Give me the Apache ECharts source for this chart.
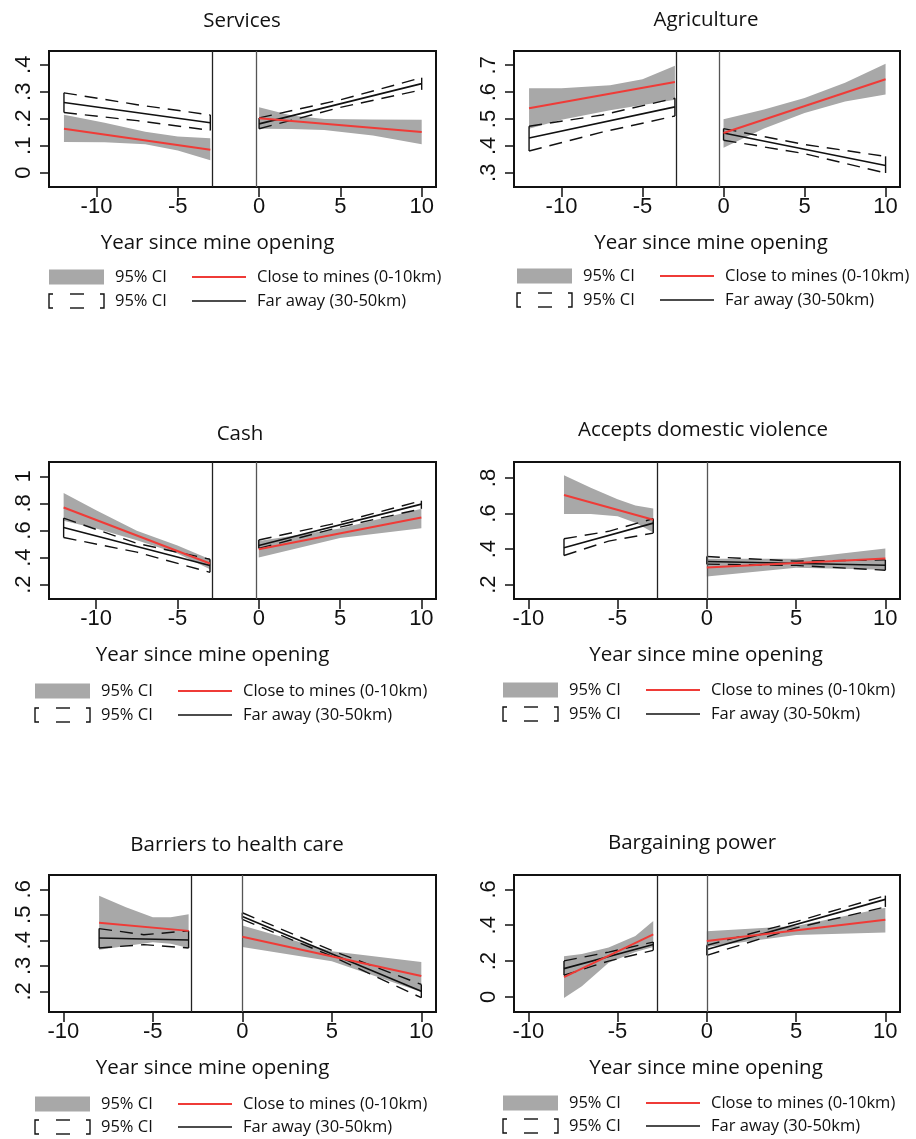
<!DOCTYPE html>
<html>
<head>
<meta charset="utf-8">
<script src="https://cdn.jsdelivr.net/npm/echarts@6/dist/echarts.min.js"></script>
<style>
  html, body { margin: 0; padding: 0; background: #fff; }
  #chart { width: 916px; height: 1139px; }
</style>
</head>
<body>
<div id="chart"></div>
<script>
// Shared x ticks (years relative to mine opening)
const xTicks = [-10, -5, 0, 5, 10];

// Each line: [before-opening segment, after-opening segment], points [year, value]
// Each band: same two segments, points [year, lower, upper]

// Services
const servicesYTicks = [0, 0.1, 0.2, 0.3, 0.4];
const servicesCloseLine = [[[-12, 0.163], [-3, 0.085]], [[0, 0.202], [10, 0.151]]];
const servicesCloseBand = [
  [[-12, 0.114, 0.215], [-9.5, 0.113, 0.185], [-7, 0.105, 0.152], [-5, 0.082, 0.134], [-3, 0.046, 0.128]],
  [[0, 0.163, 0.243], [2, 0.162, 0.212], [4, 0.158, 0.199], [7, 0.138, 0.197], [10, 0.105, 0.196]]
];
const servicesFarLine = [[[-12, 0.260], [-3, 0.185]], [[0, 0.181], [10, 0.330]]];
const servicesFarBand = [
  [[-12, 0.223, 0.296], [-7.5, 0.193, 0.252], [-3, 0.157, 0.214]],
  [[0, 0.163, 0.203], [5, 0.242, 0.270], [10, 0.307, 0.352]]
];

// Agriculture
const agricultureYTicks = [0.3, 0.4, 0.5, 0.6, 0.7];
const agricultureCloseLine = [[[-12, 0.540], [-3, 0.638]], [[0, 0.448], [10, 0.648]]];
const agricultureCloseBand = [
  [[-12, 0.464, 0.614], [-10, 0.497, 0.614], [-7, 0.533, 0.626], [-5, 0.552, 0.648], [-3, 0.572, 0.698]],
  [[0, 0.393, 0.499], [2.5, 0.465, 0.535], [5, 0.522, 0.578], [7.5, 0.565, 0.635], [10, 0.591, 0.706]]
];
const agricultureFarLine = [[[-12, 0.429], [-3, 0.545]], [[0, 0.448], [10, 0.327]]];
const agricultureFarBand = [
  [[-12, 0.381, 0.473], [-7.5, 0.451, 0.515], [-3, 0.511, 0.577]],
  [[0, 0.421, 0.464], [5, 0.371, 0.405], [10, 0.299, 0.361]]
];

// Cash
const cashYTicks = [0.2, 0.4, 0.6, 0.8, 1];
const cashCloseLine = [[[-12, 0.770], [-3, 0.356]], [[0, 0.462], [10, 0.696]]];
const cashCloseBand = [
  [[-12, 0.672, 0.877], [-10, 0.615, 0.750], [-7.5, 0.528, 0.598], [-5, 0.430, 0.490], [-3, 0.314, 0.388]],
  [[0, 0.400, 0.523], [5, 0.545, 0.615], [10, 0.617, 0.760]]
];
const cashFarLine = [[[-12, 0.622], [-3, 0.341]], [[0, 0.489], [10, 0.795]]];
const cashFarBand = [
  [[-12, 0.548, 0.691], [-7.5, 0.440, 0.505], [-3, 0.291, 0.388]],
  [[0, 0.468, 0.530], [5, 0.625, 0.660], [10, 0.760, 0.820]]
];

// Accepts domestic violence
const violenceYTicks = [0.2, 0.4, 0.6, 0.8];
const violenceCloseLine = [[[-8, 0.704], [-3, 0.565]], [[0, 0.296], [10, 0.347]]];
const violenceCloseBand = [
  [[-8, 0.597, 0.815], [-6.5, 0.597, 0.745], [-5, 0.585, 0.680], [-4, 0.548, 0.645], [-3, 0.493, 0.629]],
  [[0, 0.245, 0.345], [5, 0.295, 0.345], [10, 0.283, 0.403]]
];
const violenceFarLine = [[[-8, 0.407], [-3, 0.546]], [[0, 0.330], [10, 0.309]]];
const violenceFarBand = [
  [[-8, 0.364, 0.458], [-5.5, 0.445, 0.500], [-3, 0.490, 0.571]],
  [[0, 0.315, 0.358], [5, 0.308, 0.332], [10, 0.281, 0.339]]
];

// Barriers to health care
const healthYTicks = [0.2, 0.3, 0.4, 0.5, 0.6];
const healthCloseLine = [[[-8, 0.469], [-3, 0.437]], [[0, 0.414], [10, 0.260]]];
const healthCloseBand = [
  [[-8, 0.363, 0.575], [-6.5, 0.378, 0.530], [-5, 0.392, 0.490], [-4, 0.387, 0.490], [-3, 0.370, 0.502]],
  [[0, 0.374, 0.458], [5, 0.318, 0.357], [10, 0.197, 0.315]]
];
const healthFarLine = [[[-8, 0.409], [-3, 0.401]], [[0, 0.493], [10, 0.200]]];
const healthFarBand = [
  [[-8, 0.370, 0.446], [-5.5, 0.383, 0.422], [-3, 0.370, 0.437]],
  [[0, 0.482, 0.508], [5, 0.338, 0.360], [10, 0.175, 0.227]]
];

// Bargaining power
const bargainYTicks = [0, 0.2, 0.4, 0.6];
const bargainCloseLine = [[[-8, 0.111], [-3, 0.349]], [[0, 0.312], [10, 0.431]]];
const bargainCloseBand = [
  [[-8, -0.006, 0.227], [-7, 0.060, 0.240], [-5.5, 0.190, 0.275], [-4, 0.250, 0.340], [-3, 0.279, 0.424]],
  [[0, 0.279, 0.366], [5, 0.345, 0.395], [10, 0.360, 0.498]]
];
const bargainFarLine = [[[-8, 0.158], [-3, 0.292]], [[0, 0.264], [10, 0.544]]];
const bargainFarBand = [
  [[-8, 0.121, 0.201], [-5.5, 0.200, 0.250], [-3, 0.260, 0.306]],
  [[0, 0.232, 0.288], [5, 0.385, 0.420], [10, 0.502, 0.565]]
];

// Panel layout
const panels = [
  { title: 'Services', yTicks: servicesYTicks,
    close: servicesCloseLine, closeBand: servicesCloseBand, far: servicesFarLine, farBand: servicesFarBand,
    grid: { left: 49, top: 51, width: 387, height: 136 }, xRange: [-12.92, 10.88], yRange: [-0.053, 0.451],
    gap: [-2.87, -0.18], titleAt: [237, 16], nameDx: -25, legend: [49, 277, 301] },
  { title: 'Agriculture', yTicks: agricultureYTicks,
    close: agricultureCloseLine, closeBand: agricultureCloseBand, far: agricultureFarLine, farBand: agricultureFarBand,
    grid: { left: 514, top: 51, width: 386, height: 136 }, xRange: [-12.93, 10.89], yRange: [0.247, 0.753],
    gap: [-2.9, -0.25], titleAt: [701, 15], nameDx: 4, legend: [517, 276, 300] },
  { title: 'Cash', yTicks: cashYTicks,
    close: cashCloseLine, closeBand: cashCloseBand, far: cashFarLine, farBand: cashFarBand,
    grid: { left: 49, top: 462, width: 387, height: 137 }, xRange: [-12.9, 10.9], yRange: [0.094, 1.106],
    gap: [-2.84, -0.14], titleAt: [235, 429], nameDx: -30, legend: [35, 691, 715] },
  { title: 'Accepts domestic violence', yTicks: violenceYTicks,
    close: violenceCloseLine, closeBand: violenceCloseBand, far: violenceFarLine, farBand: violenceFarBand,
    grid: { left: 514, top: 462, width: 386, height: 137 }, xRange: [-10.8, 10.82], yRange: [0.119, 0.890],
    gap: [-2.8, 0], titleAt: [698, 425], nameDx: -1, legend: [503, 690, 714] },
  { title: 'Barriers to health care', yTicks: healthYTicks,
    close: healthCloseLine, closeBand: healthCloseBand, far: healthFarLine, farBand: healthFarBand,
    grid: { left: 49, top: 875, width: 387, height: 137 }, xRange: [-10.8, 10.82], yRange: [0.119, 0.656],
    gap: [-2.84, 0], titleAt: [232, 840], nameDx: -30, legend: [35, 1104, 1127] },
  { title: 'Bargaining power', yTicks: bargainYTicks,
    close: bargainCloseLine, closeBand: bargainCloseBand, far: bargainFarLine, farBand: bargainFarBand,
    grid: { left: 514, top: 875, width: 386, height: 137 }, xRange: [-10.8, 10.82], yRange: [-0.084, 0.680],
    gap: [-2.8, 0], titleAt: [687, 838], nameDx: -1, legend: [503, 1103, 1126] }
];

const RED = '#ef3b37';
const BAND = '#a8a8a8';
const INK = '#111';
const TEXT_FONT = 'Open Sans';
const TICK_FONT = 'Liberation Sans';

function stataNumber(v) {
  const s = String(+(+v).toFixed(2));
  return s.replace(/^0\./, '.').replace(/^-0\./, '-.');
}

// filled confidence band as one polygon per segment
function bandSeries(seg, i) {
  return {
    type: 'custom', xAxisIndex: i, yAxisIndex: i, data: seg, z: 1,
    encode: { x: 0, y: [1, 2] }, silent: true,
    renderItem(params, api) {
      if (params.dataIndex !== 0) return;
      const up = seg.map(p => api.coord([p[0], p[2]]));
      const lo = seg.map(p => api.coord([p[0], p[1]])).reverse();
      return { type: 'polygon', shape: { points: up.concat(lo) }, style: { fill: BAND } };
    }
  };
}

// dashed outline band with solid end caps
function outlineSeries(seg, i) {
  return {
    type: 'custom', xAxisIndex: i, yAxisIndex: i, data: seg, z: 3,
    encode: { x: 0, y: [1, 2] }, silent: true,
    renderItem(params, api) {
      if (params.dataIndex !== 0) return;
      const up = seg.map(p => api.coord([p[0], p[2]]));
      const lo = seg.map(p => api.coord([p[0], p[1]]));
      const dash = { stroke: INK, lineWidth: 1.4, lineDash: [13, 8], fill: null };
      const solid = { stroke: INK, lineWidth: 1.4, fill: null };
      const n = seg.length - 1;
      return {
        type: 'group',
        children: [
          { type: 'polyline', shape: { points: up }, style: dash },
          { type: 'polyline', shape: { points: lo }, style: dash },
          { type: 'line', shape: { x1: lo[0][0], y1: lo[0][1], x2: up[0][0], y2: up[0][1] }, style: solid },
          { type: 'line', shape: { x1: lo[n][0], y1: lo[n][1], x2: up[n][0], y2: up[n][1] }, style: solid }
        ]
      };
    }
  };
}

function lineSeries(seg, i, color, width, z) {
  return {
    type: 'line', xAxisIndex: i, yAxisIndex: i, data: seg, z: z,
    showSymbol: false, symbol: 'none', silent: true,
    lineStyle: { color: color, width: width }
  };
}

const grids = [], xAxes = [], yAxes = [], series = [], titles = [], graphics = [];

panels.forEach((p, i) => {
  grids.push(Object.assign({ show: true, borderColor: INK, borderWidth: 2,
    backgroundColor: 'transparent', containLabel: false, outerBoundsMode: 'none' }, p.grid));

  const pad = p.nameDx < 0 ? [0, -2 * p.nameDx, 0, 0] : [0, 0, 0, 2 * p.nameDx];
  xAxes.push({
    type: 'value', gridIndex: i, min: p.xRange[0], max: p.xRange[1], position: 'bottom',
    axisLine: { show: false, onZero: false }, splitLine: { show: false },
    axisTick: { show: true, inside: false, length: 10, customValues: xTicks, lineStyle: { color: INK, width: 1.5 } },
    axisLabel: { customValues: xTicks, fontFamily: TICK_FONT, fontSize: 22, color: INK, margin: 9 },
    name: 'Year since mine opening', nameLocation: 'middle', nameGap: 46,
    nameTextStyle: { fontFamily: TEXT_FONT, fontSize: 20.5, color: INK, padding: pad }
  });
  yAxes.push({
    type: 'value', gridIndex: i, min: p.yRange[0], max: p.yRange[1], position: 'left',
    axisLine: { show: false, onZero: false }, splitLine: { show: false },
    axisTick: { show: true, inside: false, length: 9, customValues: p.yTicks, lineStyle: { color: INK, width: 1.5 } },
    axisLabel: { customValues: p.yTicks, rotate: 90, fontFamily: TICK_FONT, fontSize: 22, color: INK,
      margin: 14, formatter: stataNumber }
  });

  p.closeBand.forEach(seg => series.push(bandSeries(seg, i)));
  p.farBand.forEach(seg => series.push(outlineSeries(seg, i)));
  p.far.forEach(seg => series.push(lineSeries(seg, i, INK, 1.6, 4)));
  p.close.forEach((seg, k) => {
    const s = lineSeries(seg, i, RED, 2, 5);
    if (k === 0) {
      s.markLine = {
        silent: true, symbol: 'none', label: { show: false },
        lineStyle: { type: 'solid', width: 1.3 },
        data: [
          { xAxis: p.gap[0], lineStyle: { color: '#222', type: 'solid', width: 1.3 } },
          { xAxis: p.gap[1], lineStyle: { color: '#555', type: 'solid', width: 1.3 } }
        ]
      };
    }
    series.push(s);
  });

  titles.push({
    text: p.title, left: p.titleAt[0], top: p.titleAt[1], textAlign: 'center', textVerticalAlign: 'middle',
    textStyle: { fontFamily: TEXT_FONT, fontSize: 20.5, fontWeight: 'normal', color: INK }
  });

  // legend block
  const [lx, r1, r2] = p.legend;
  const txt = (x, y, t) => ({ type: 'text', x: x, y: y, silent: true,
    style: { text: t, fontFamily: TEXT_FONT, fontSize: 16.5, fill: INK, verticalAlign: 'middle' } });
  const seg = (pts, extra) => ({ type: 'polyline', silent: true, shape: { points: pts },
    style: Object.assign({ stroke: INK, lineWidth: 1.4, fill: null }, extra || {}) });
  graphics.push(
    { type: 'rect', silent: true, shape: { x: lx, y: r1 - 7.5, width: 55, height: 15 }, style: { fill: BAND } },
    txt(lx + 66, r1, '95% CI'),
    seg([[lx + 143, r1], [lx + 197, r1]], { stroke: RED, lineWidth: 2 }),
    txt(lx + 208, r1, 'Close to mines (0-10km)'),
    seg([[lx + 4, r2 - 7], [lx, r2 - 7], [lx, r2 + 7], [lx + 4, r2 + 7]]),
    seg([[lx + 51, r2 - 7], [lx + 55, r2 - 7], [lx + 55, r2 + 7], [lx + 51, r2 + 7]]),
    seg([[lx + 21, r2 - 7], [lx + 35, r2 - 7]]),
    seg([[lx + 21, r2 + 7], [lx + 35, r2 + 7]]),
    txt(lx + 66, r2, '95% CI'),
    seg([[lx + 143, r2], [lx + 197, r2]], { stroke: INK, lineWidth: 1.6 }),
    txt(lx + 208, r2, 'Far away (30-50km)')
  );
});

const chart = echarts.init(document.getElementById('chart'), null, { renderer: 'canvas' });
chart.setOption({
  backgroundColor: '#fff',
  animation: false,
  title: titles,
  grid: grids,
  xAxis: xAxes,
  yAxis: yAxes,
  series: series,
  graphic: { elements: graphics }
});
</script>
</body>
</html>
